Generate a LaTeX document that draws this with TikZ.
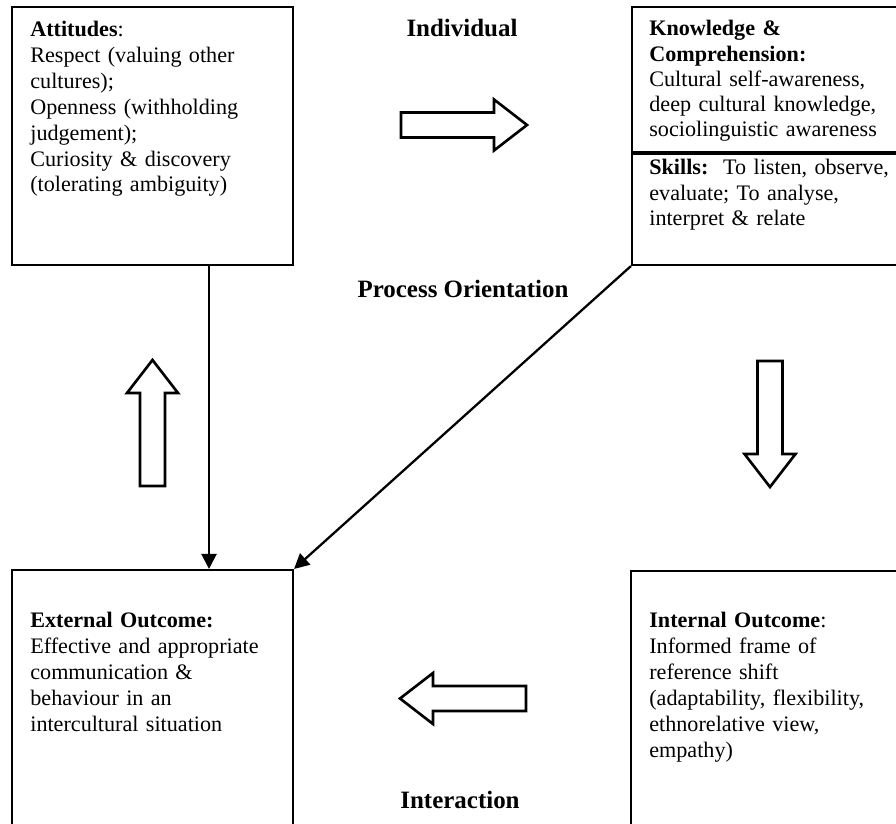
\documentclass[tikz,border=0pt]{standalone}
\usepackage{fontspec}
\setmainfont{Liberation Serif}
\usetikzlibrary{arrows.meta}

\tikzset{
    box/.style={draw, line width=1.2pt, inner sep=0pt},
    txt/.style={anchor=base west, inner sep=0pt, text width=7cm, align=left,
        font=\fontsize{12.6}{14.7}\selectfont},
    lbl/.style={anchor=base, inner sep=0pt, font=\fontsize{14.2}{16}\selectfont\bfseries},
    conn/.style={line width=1.3pt, -{Triangle[length=0.3cm, width=0.3cm]}},
    blockarr/.pic={
        \draw[line width=1.5pt, fill=white] (0,-0.25) -- (1.86,-0.25) -- (1.86,-0.51)
            -- (2.52,0) -- (1.86,0.51) -- (1.86,0.25) -- (0,0.25) -- cycle;
    }
}

\begin{document}
\begin{tikzpicture}
        \useasboundingbox (0,0) rectangle (17.92,16.48);
        \clip (0,0) rectangle (17.92,16.48);

        % Boxes
        \node[box, minimum width=5.62cm, minimum height=5.16cm] (att) at (3.05,13.76) {};
        \node[box, minimum width=5.34cm, minimum height=5.16cm] (know) at (15.31,13.76) {};
        \node[box, minimum width=5.62cm, minimum height=5.18cm] (ext) at (3.05,2.49) {};
        \node[box, minimum width=5.36cm, minimum height=5.16cm] (int) at (15.30,2.48) {};
        \draw[line width=1.8pt] (12.64,13.42) -- (17.98,13.42);

        % Texts
        \node[txt] (attT) at (0.60,15.74) {\textbf{Attitudes}:\\Respect (valuing other\\cultures);\\Openness (withholding\\judgement);\\Curiosity \& discovery\\(tolerating ambiguity)};
        \node[txt, font=\fontsize{12.6}{14.3}\selectfont] (knowT) at (12.98,15.76) {\textbf{Knowledge \&}\\\textbf{Comprehension:}\\Cultural self-awareness,\\deep cultural knowledge,\\sociolinguistic awareness};
        \node[txt, font=\fontsize{12.6}{14.5}\selectfont] (skillT) at (12.98,12.98) {\textbf{Skills:}\ \ To listen, observe,\\evaluate; To analyse,\\interpret \& relate};
        \node[txt] (extT) at (0.60,3.92) {\textbf{External Outcome:}\\Effective and appropriate\\communication \&\\behaviour in an\\intercultural situation};
        \node[txt] (intT) at (12.98,3.92) {\textbf{Internal Outcome}:\\Informed frame of\\reference shift\\(adaptability, flexibility,\\ethnorelative view,\\empathy)};

        % Labels
        \node[lbl] (indiv) at (9.24,15.74) {Individual};
        \node[lbl] (proc) at (9.26,10.52) {Process Orientation};
        \node[lbl] (inter) at (9.20,0.30) {Interaction};

        % Block arrows
        \pic at (8.02,13.98) {blockarr};
        \pic[rotate=-90] at (15.40,9.26) {blockarr};
        \pic[rotate=180] at (10.52,2.51) {blockarr};
        \pic[rotate=90] at (3.05,6.76) {blockarr};

        % Arrows
        \coordinate (vx) at (4.18,0);
        \draw[conn] (att.south -| vx) -- (ext.north -| vx);
        \draw[conn] (know.south west) -- (ext.north east);
\end{tikzpicture}
\end{document}
